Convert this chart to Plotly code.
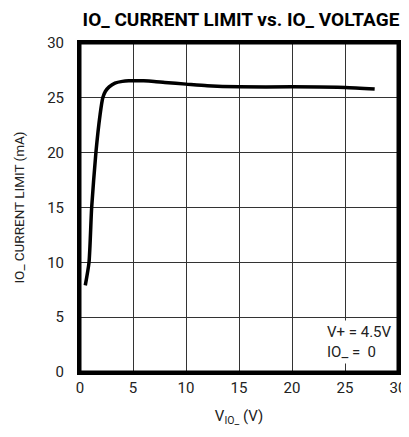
import plotly.graph_objects as go

# data
v_io = [0.5, 0.85, 1.1, 1.5, 1.9, 2.15, 2.4, 2.75, 3.3, 4.0, 4.6, 6.0, 7.0, 8.0, 10.0, 12.0, 15.0, 20.0, 25.0, 27.8]
i_limit = [7.9, 10.0, 15.0, 20.0, 23.5, 25.0, 25.6, 26.0, 26.35, 26.5, 26.55, 26.55, 26.5, 26.4, 26.25, 26.1, 26.0, 26.0, 25.95, 25.8]

x_ticks = [0, 5, 10, 15, 20, 25, 30]
y_ticks = [0, 5, 10, 15, 20, 25, 30]

title_text = "IO_ CURRENT LIMIT vs. IO_ VOLTAGE"
x_title = "V<sub>IO_</sub> (V)"
y_title = "IO_ CURRENT LIMIT (mA)"
note_text = "V+ = 4.5V<br>IO_ =  0"

FAM = "Roboto"
tick_font = dict(family=FAM, size=15, color="#222")

fig = go.Figure()
fig.add_trace(go.Scatter(
    x=v_io, y=i_limit, mode="lines",
    line=dict(color="black", width=3.5, shape="spline", smoothing=0.6),
    showlegend=False, hoverinfo="skip",
))

fig.update_layout(
    width=401, height=429,
    margin=dict(l=72, r=3, t=35, b=65),
    paper_bgcolor="white", plot_bgcolor="white",
    font=tick_font,
    title=dict(
        text="<b>" + title_text + "</b>",
        x=0.581, xanchor="center", y=0.99, yanchor="top",
        font=dict(family=FAM, size=19, color="black"),
    ),
    xaxis=dict(
        range=[0, 30], tickvals=x_ticks, ticktext=[str(t) for t in x_ticks],
        showgrid=True, gridcolor="#333", gridwidth=1,
        showline=True, linecolor="black", linewidth=3, mirror=True,
        ticks="inside", ticklen=5, tickcolor="#333", tickwidth=1,
        zeroline=False, tickfont=tick_font, ticklabeloverflow="allow",
        title=dict(text=x_title, font=tick_font, standoff=15),
    ),
    yaxis=dict(
        range=[0, 30], tickvals=y_ticks, ticktext=[str(t) for t in y_ticks],
        showgrid=True, gridcolor="#333", gridwidth=1,
        showline=True, linecolor="black", linewidth=3, mirror=True,
        ticks="inside", ticklen=5, tickcolor="#333", tickwidth=1,
        zeroline=False, tickfont=tick_font, ticklabelstandoff=10,
        title=dict(text=y_title, font=dict(family=FAM, size=13.5, color="#222"), standoff=20),
    ),
)

# heavy frame around the plotting area
fig.add_shape(type="rect", xref="x domain", yref="y domain", x0=0, x1=1, y0=0, y1=1,
              line=dict(color="black", width=3), fillcolor="rgba(0,0,0,0)", layer="above")

fig.add_annotation(
    x=23, y=4.7, xref="x", yref="y", xanchor="left", yanchor="top",
    text=note_text, showarrow=False, align="left",
    font=dict(family=FAM, size=15, color="#222"),
    bgcolor="white", borderpad=2,
)

fig.write_html("out.html")
